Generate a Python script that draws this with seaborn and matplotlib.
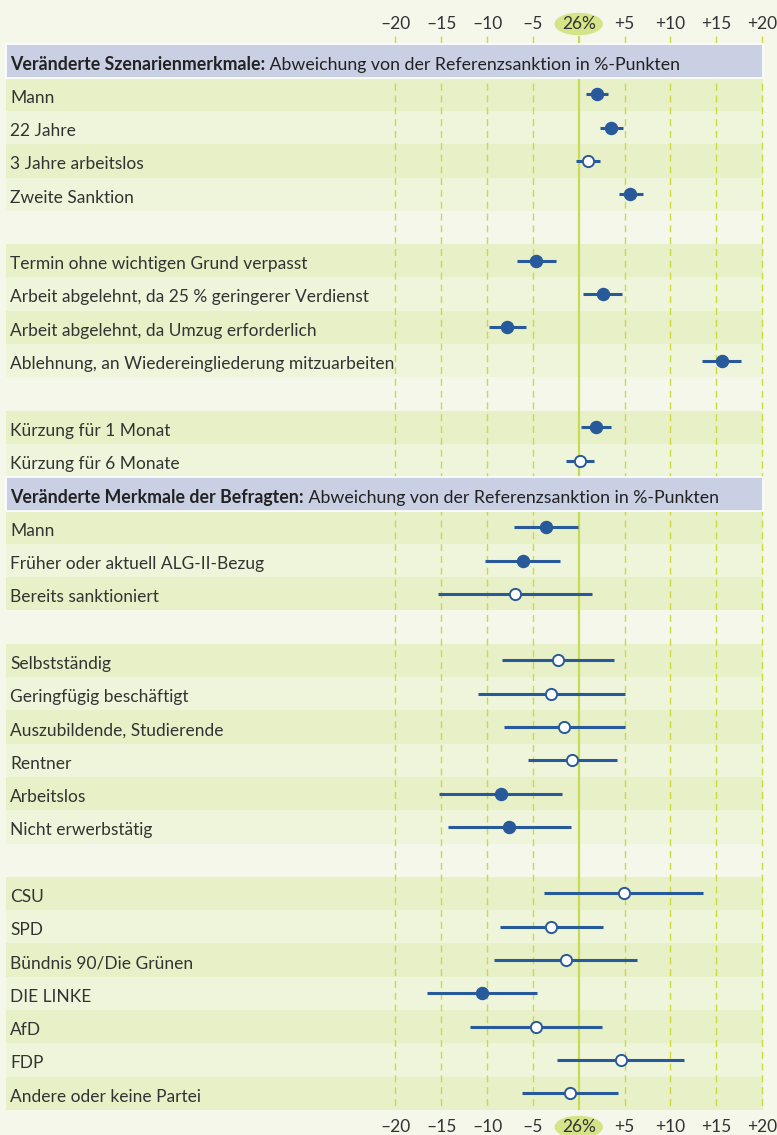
import numpy as np
import pandas as pd
import matplotlib
matplotlib.use("Agg")
import matplotlib.pyplot as plt
from matplotlib.patches import Ellipse
import seaborn as sns

# Zeilen des Diagramms (None = Leerzeile, Überschriften separat)
header_1 = ("Veränderte Szenarienmerkmale:", " Abweichung von der Referenzsanktion in %-Punkten")
header_2 = ("Veränderte Merkmale der Befragten:", " Abweichung von der Referenzsanktion in %-Punkten")

labels_scen = ["Mann", "22 Jahre", "3 Jahre arbeitslos", "Zweite Sanktion", None,
               "Termin ohne wichtigen Grund verpasst",
               "Arbeit abgelehnt, da 25 % geringerer Verdienst",
               "Arbeit abgelehnt, da Umzug erforderlich",
               "Ablehnung, an Wiedereingliederung mitzuarbeiten", None,
               "Kürzung für 1 Monat", "Kürzung für 6 Monate"]
est_scen = [2.0, 3.5, 1.0, 5.6, None, -4.7, 2.6, -7.8, 15.6, None, 1.9, 0.1]
lo_scen = [0.8, 2.3, -0.3, 4.4, None, -6.7, 0.5, -9.8, 13.5, None, 0.3, -1.4]
hi_scen = [3.2, 4.8, 2.3, 7.0, None, -2.5, 4.7, -5.7, 17.7, None, 3.5, 1.7]
sig_scen = [1, 1, 0, 1, None, 1, 1, 1, 1, None, 1, 0]

labels_resp = ["Mann", "Früher oder aktuell ALG-II-Bezug", "Bereits sanktioniert", None,
               "Selbstständig", "Geringfügig beschäftigt", "Auszubildende, Studierende",
               "Rentner", "Arbeitslos", "Nicht erwerbstätig", None,
               "CSU", "SPD", "Bündnis 90/Die Grünen", "DIE LINKE", "AfD", "FDP",
               "Andere oder keine Partei"]
est_resp = [-3.6, -6.1, -7.0, None, -2.3, -3.0, -1.6, -0.7, -8.5, -7.6, None,
            4.9, -3.0, -1.4, -10.5, -4.7, 4.6, -1.0]
lo_resp = [-7.1, -10.2, -15.3, None, -8.4, -11.0, -8.2, -5.5, -15.2, -14.3, None,
           -3.8, -8.6, -9.2, -16.5, -11.8, -2.4, -6.2]
hi_resp = [-0.1, -2.0, 1.5, None, 3.8, 5.0, 5.0, 4.2, -1.8, -0.8, None,
           13.6, 2.7, 6.4, -4.6, 2.5, 11.5, 4.3]
sig_resp = [1, 1, 0, None, 0, 0, 0, 0, 1, 1, None,
            0, 0, 0, 1, 0, 0, 0]

tick_values = [-20, -15, -10, -5, 0, 5, 10, 15, 20]
tick_labels = ["–20", "–15", "–10", "–5", "26%", "+5", "+10", "+15", "+20"]

# Farben
BG = "#f4f7e9"
BAND_DARK = "#e8f0c8"
BAND_LIGHT = "#eff5da"
HEADER = "#c9d0e4"
BLUE = "#28599b"
GRID = "#cadb3c"
ZERO = "#c6da55"
OVAL = "#d5e389"
TEXT = "#333333"

sns.set_theme(style="white")
plt.rcParams["font.family"] = ["Lato", "DejaVu Sans"]

# Zeilenpositionen: Überschrift 1 = 0, dann Szenarien, Überschrift 2, Befragte
pos_h1 = 0
pos_scen = list(range(1, 1 + len(labels_scen)))
pos_h2 = pos_scen[-1] + 1
pos_resp = list(range(pos_h2 + 1, pos_h2 + 1 + len(labels_resp)))

df = pd.DataFrame({
    "label": labels_scen + labels_resp,
    "est": est_scen + est_resp,
    "lo": lo_scen + lo_resp,
    "hi": hi_scen + hi_resp,
    "sig": sig_scen + sig_resp,
    "pos": pos_scen + pos_resp,
})

W, H = 777, 1135
X0, PX_UNIT = 578.7, 9.17     # Pixel des Nullpunkts, Pixel pro %-Punkt
Y0, PX_ROW = 61.0, 33.3       # Pixel der ersten Zeile, Zeilenhöhe
TXT_DY = 0.1                  # Text etwas unter der Zeilenmitte

fig = plt.figure(figsize=(W / 100, H / 100), dpi=100)
fig.patch.set_facecolor(BG)
ax = fig.add_axes([0, 0, 1, 1])
ax.set_facecolor(BG)
ax.set_xlim(-X0 / PX_UNIT, (W - X0) / PX_UNIT)
ax.set_ylim((H - Y0) / PX_ROW, -Y0 / PX_ROW)
ax.axis("off")

band_x0, band_x1 = 6 / W, 763 / W

# Bänder (abwechselnd, Leerzeilen ohne Band)
def draw_bands(labels, positions):
    k = 0
    for lab, p in zip(labels, positions):
        if lab is None:
            k = 0
            continue
        c = BAND_DARK if k % 2 == 0 else BAND_LIGHT
        ax.axhspan(p - 0.5, p + 0.5, xmin=band_x0, xmax=band_x1, color=c, lw=0, zorder=0)
        ax.text(10 / W, p + TXT_DY, lab, transform=ax.get_yaxis_transform(),
                va="center", ha="left", fontsize=12.5, color=TEXT, zorder=5)
        k += 1

draw_bands(labels_scen, pos_scen)
draw_bands(labels_resp, pos_resp)

# Gitterlinien
grid_top = (36 - Y0) / PX_ROW
grid_bot = (1110 - Y0) / PX_ROW
for v in tick_values:
    if v == 0:
        ax.vlines(v, grid_top, grid_bot, color=ZERO, lw=1.6, zorder=1)
    else:
        ax.vlines(v, grid_top, grid_bot, color=GRID, lw=1.0,
                  linestyles=(0, (5, 3.5)), zorder=1)

# Überschriften
for p, (bold, normal) in [(pos_h1, header_1), (pos_h2, header_2)]:
    ax.axhspan(p - 0.5, p + 0.5, xmin=band_x0, xmax=band_x1, facecolor=HEADER,
               edgecolor="white", lw=1.2, zorder=2)
    t = ax.text(10 / W, p + TXT_DY, bold, transform=ax.get_yaxis_transform(),
                va="center", ha="left", fontsize=12.8, fontweight="bold",
                color="#222222", zorder=5)
    ax.annotate(normal, xy=(1, 0), xycoords=t, va="bottom", ha="left",
                fontsize=12.8, color="#222222", zorder=5)

# Achsenbeschriftung oben und unten
for yy in [(24 - Y0) / PX_ROW, (1127 - Y0) / PX_ROW]:
    ax.add_patch(Ellipse((0, yy), 47 / PX_UNIT, 21 / PX_ROW, color=OVAL, zorder=2))
    for v, s in zip(tick_values, tick_labels):
        ax.text(v, yy, s, ha="center", va="center", fontsize=12.5, color=TEXT, zorder=5)

# Konfidenzintervalle und Punktschätzer
pts = df.dropna(subset=["est"])
ax.hlines(pts["pos"], pts["lo"], pts["hi"], color=BLUE, lw=2.2, zorder=3)
sns.scatterplot(data=pts[pts["sig"] == 1], x="est", y="pos", ax=ax, color=BLUE,
                edgecolor=BLUE, s=75, linewidth=1, zorder=4, legend=False)
sns.scatterplot(data=pts[pts["sig"] == 0], x="est", y="pos", ax=ax, color="white",
                edgecolor=BLUE, s=65, linewidth=1.4, zorder=4, legend=False)
ax.set_xlabel("")
ax.set_ylabel("")
ax.axis("off")

fig.savefig("out.png", dpi=100, facecolor=BG)
